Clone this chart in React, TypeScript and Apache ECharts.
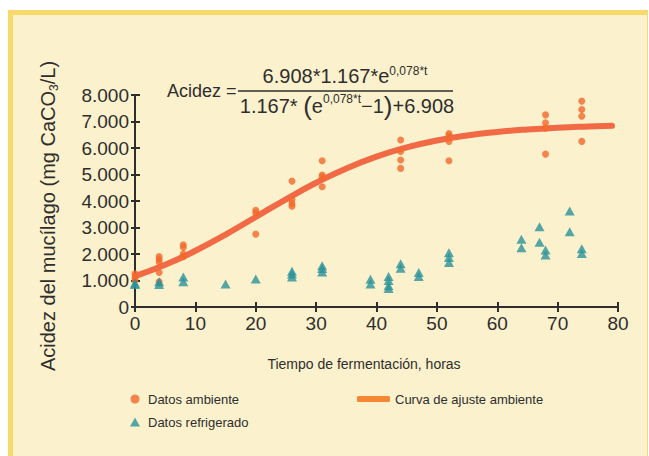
import React, { useEffect, useRef } from "react";
import * as echarts from "echarts";

// ---- data ----
const ambienteHoras = [0, 0, 0, 4, 4, 4, 4, 4, 8, 8, 8, 8, 20, 20, 20, 26, 26, 26, 26, 31, 31, 31, 31, 44, 44, 44, 44, 52, 52, 52, 52, 68, 68, 68, 68, 74, 74, 74, 74];
const ambienteAcidez = [1250, 1100, 1000, 1900, 1800, 1700, 1300, 950, 2350, 2250, 2000, 1900, 3650, 3550, 2750, 4750, 4050, 3900, 3800, 5520, 4980, 4900, 4540, 6300, 5870, 5550, 5230, 6550, 6450, 6250, 5520, 7250, 6950, 6750, 5770, 7770, 7450, 7200, 6250];

const refrigHoras = [0, 0, 4, 4, 8, 8, 15, 20, 26, 26, 26, 31, 31, 31, 39, 39, 42, 42, 42, 42, 44, 44, 47, 47, 52, 52, 52, 64, 64, 67, 67, 68, 68, 72, 72, 74, 74];
const refrigAcidez = [900, 850, 950, 850, 1130, 950, 870, 1060, 1350, 1250, 1130, 1560, 1450, 1320, 1050, 870, 1150, 1000, 800, 700, 1630, 1460, 1300, 1150, 2050, 1870, 1680, 2560, 2240, 3030, 2440, 2150, 1960, 3620, 2840, 2200, 2020];

const curvaHoras = [0, 5, 10, 15, 20, 25, 30, 35, 40, 45, 50, 55, 60, 65, 70, 75, 79];
const curvaAcidez = [1167, 1595, 2122, 2734, 3397, 4064, 4687, 5230, 5675, 6022, 6282, 6472, 6606, 6701, 6767, 6811, 6836];

const xTicks = [0, 10, 20, 30, 40, 50, 60, 70, 80];
const yTicks = [0, 1000, 2000, 3000, 4000, 5000, 6000, 7000, 8000];

const zip = (a: number[], b: number[]) => a.map((v, i) => [v, b[i]]);

const DARK = "#2e2e2e";
const ORANGE_DOT = "#F2692A";
const ORANGE_LINE = "#F26A45";
const TEAL = "#2A9299";
const NARROW = "'Liberation Sans Narrow', 'Arial Narrow', 'Liberation Sans', sans-serif";
const SANS = "'Liberation Sans', Arial, sans-serif";

export default function App() {
  const ref = useRef<HTMLDivElement>(null);

  useEffect(() => {
    if (!ref.current) return;
    const chart = echarts.init(ref.current, undefined, { renderer: "svg" });
    const yFmt = (v: number) => (v === 0 ? "0" : `${v / 1000}.000`);
    const axisCommon = {
      type: "value" as const,
      splitLine: { show: false },
    };
    chart.setOption({
      animation: false,
      backgroundColor: "transparent",
      grid: { left: 135, right: 31, top: 95, bottom: 149, containLabel: false },
      xAxis: [
        {
          ...axisCommon,
          min: xTicks[0],
          max: xTicks[xTicks.length - 1],
          interval: 10,
          axisLine: { show: true, onZero: false, lineStyle: { color: DARK, width: 2 } },
          axisTick: { show: true, length: 5, lineStyle: { color: DARK, width: 2 } },
          axisLabel: { color: DARK, fontSize: 19, fontFamily: SANS, margin: 7 },
        },
        {
          ...axisCommon,
          min: xTicks[0],
          max: xTicks[xTicks.length - 1],
          interval: 10,
          position: "bottom",
          axisLine: { show: false },
          axisTick: { show: true, inside: true, length: 5, lineStyle: { color: DARK, width: 2 } },
          axisLabel: { show: false },
        },
      ],
      yAxis: [
        {
          ...axisCommon,
          min: yTicks[0],
          max: yTicks[yTicks.length - 1],
          interval: 1000,
          axisLine: { show: true, onZero: false, lineStyle: { color: DARK, width: 2 } },
          axisTick: { show: true, length: 4, lineStyle: { color: DARK, width: 2 } },
          axisLabel: { color: DARK, fontSize: 19, fontFamily: SANS, margin: 6, formatter: yFmt },
        },
        {
          ...axisCommon,
          min: yTicks[0],
          max: yTicks[yTicks.length - 1],
          interval: 1000,
          position: "left",
          axisLine: { show: false },
          axisTick: { show: true, inside: true, length: 5, lineStyle: { color: DARK, width: 2 } },
          axisLabel: { show: false },
        },
      ],
      legend: [
        {
          data: [{ name: "Datos ambiente" }, { name: "Datos refrigerado" }],
          orient: "vertical",
          left: 125,
          top: 387,
          itemWidth: 10,
          itemHeight: 9,
          itemGap: 9,
          textStyle: { color: DARK, fontSize: 13, fontFamily: NARROW, lineHeight: 14, padding: [0, 0, 0, 3] },
        },
        {
          data: [{ name: "Curva de ajuste ambiente", itemStyle: { color: "#F58634" } }],
          left: 352,
          top: 387,
          itemWidth: 33,
          itemHeight: 6,
          itemGap: 4,
          icon: "roundRect",
          textStyle: { color: DARK, fontSize: 13, fontFamily: NARROW, lineHeight: 14 },
        },
      ],
      series: [
        {
          name: "Curva de ajuste ambiente",
          type: "line",
          data: zip(curvaHoras, curvaAcidez),
          smooth: true,
          showSymbol: false,
          symbol: "none",
          lineStyle: { color: ORANGE_LINE, width: 6, cap: "round" },
          itemStyle: { color: ORANGE_LINE },
          z: 3,
        },
        {
          name: "Datos ambiente",
          type: "scatter",
          data: zip(ambienteHoras, ambienteAcidez),
          symbol: "circle",
          symbolSize: 7,
          itemStyle: { color: ORANGE_DOT },
          z: 4,
        },
        {
          name: "Datos refrigerado",
          type: "scatter",
          data: zip(refrigHoras, refrigAcidez),
          symbol: "triangle",
          symbolSize: [10, 9],
          itemStyle: { color: TEAL },
          z: 4,
        },
      ],
      graphic: [
        {
          type: "text",
          x: 48,
          y: 216,
          rotation: Math.PI / 2,
          style: {
            text: "{a|Acidez del mucílago (mg CaCO}{b|3}{a|/L)}",
            align: "center",
            verticalAlign: "middle",
            fill: DARK,
            rich: {
              a: { fontSize: 20, fontFamily: SANS, fill: DARK, lineHeight: 24 },
              b: { fontSize: 12, fontFamily: SANS, fill: DARK, verticalAlign: "bottom", lineHeight: 14 },
            },
          },
        },
        {
          type: "text",
          x: 364,
          y: 364,
          style: {
            text: "Tiempo de fermentación, horas",
            align: "center",
            verticalAlign: "middle",
            fill: DARK,
            fontSize: 14,
            fontFamily: NARROW,
          },
        },
        {
          type: "text",
          x: 167,
          y: 91,
          style: {
            text: "Acidez =",
            align: "left",
            verticalAlign: "middle",
            fill: DARK,
            fontSize: 18,
            fontFamily: SANS,
          },
        },
        {
          type: "line",
          shape: { x1: 238, y1: 91, x2: 453, y2: 91 },
          style: { stroke: DARK, lineWidth: 1.3 },
        },
        {
          type: "text",
          x: 345,
          y: 76,
          style: {
            text: "{m|6.908*1.167*e}{s|0,078*t}",
            align: "center",
            verticalAlign: "middle",
            rich: {
              m: { fontSize: 20, fontFamily: SANS, fill: DARK, lineHeight: 22 },
              s: { fontSize: 12, fontFamily: SANS, fill: DARK, verticalAlign: "top", lineHeight: 12 },
            },
          },
        },
        {
          type: "text",
          x: 347,
          y: 106,
          style: {
            text: "{m|1.167* }{p|(}{m|e}{s|0,078*t}{m|−1}{p|)}{m|+6.908}",
            align: "center",
            verticalAlign: "middle",
            rich: {
              m: { fontSize: 20, fontFamily: SANS, fill: DARK, lineHeight: 24 },
              p: { fontSize: 26, fontFamily: SANS, fill: DARK, lineHeight: 26 },
              s: { fontSize: 12, fontFamily: SANS, fill: DARK, verticalAlign: "top", lineHeight: 12 },
            },
          },
        },
      ],
    });
    return () => chart.dispose();
  }, []);

  return (
    <div style={{ position: "absolute", left: 0, top: 0, width: 649, height: 456, overflow: "hidden" }}>
      <div
        style={{
          position: "absolute",
          left: 8,
          top: 10,
          width: 634,
          height: 446,
          background: "#FBF1CC",
          borderTop: "5px solid #F8D96B",
          borderLeft: "5px solid #F8D96B",
          borderRight: "1px solid #F8D96B",
        }}
      />
      <div ref={ref} style={{ position: "absolute", left: 0, top: 0, width: 649, height: 456 }} />
    </div>
  );
}
